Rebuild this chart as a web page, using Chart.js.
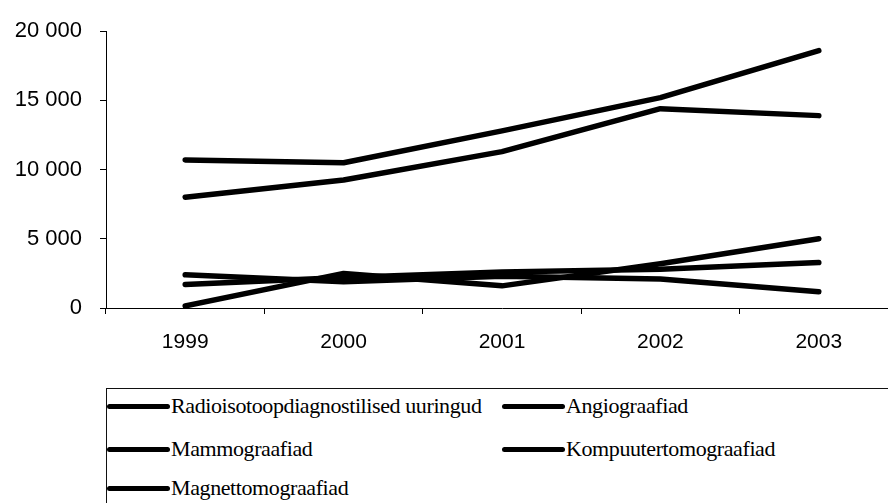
<!DOCTYPE html>
<html>
<head>
<meta charset="utf-8">
<script src="https://cdn.jsdelivr.net/npm/chart.js@4/dist/chart.umd.min.js"></script>
<style>
  html, body { margin: 0; padding: 0; background: #fff; overflow: hidden; }
  #wrap { position: relative; width: 900px; height: 503px; }
  #chart { position: absolute; left: 0; top: 0; }
  #legend {
    position: absolute; left: 106px; top: 388px; width: 800px; height: 140px;
    border: 1.5px solid #111; box-sizing: border-box; background: #fff;
    font-family: 'Liberation Serif', 'Times New Roman', serif; font-size: 22px; color: #000;
    letter-spacing: -0.4px;
  }
  .item { position: absolute; display: flex; align-items: center; height: 26px; white-space: nowrap; }
  .swatch { display: inline-block; width: 63px; height: 5px; background: #000; border-radius: 3px; margin-right: 1px; }
</style>
</head>
<body>
<div id="wrap">
  <canvas id="chart" width="900" height="380"></canvas>
  <div id="legend"></div>
</div>
<script>
var years = ['1999', '2000', '2001', '2002', '2003'];

var radioisotoop = [2400, 1900, 2300, 2100, 1170];
var angio = [1700, 2200, 2600, 2800, 3280];
var mammo = [8000, 9250, 11300, 14400, 13900];
var kompuuter = [10700, 10500, 12800, 15200, 18600];
var magnet = [150, 2500, 1600, 3200, 5000];

var seriesNames = [
  'Radioisotoopdiagnostilised uuringud',
  'Angiograafiad',
  'Mammograafiad',
  'Kompuutertomograafiad',
  'Magnettomograafiad'
];
var seriesData = [radioisotoop, angio, mammo, kompuuter, magnet];

function spaced(v) {
  return String(v).replace(/\B(?=(\d{3})+(?!\d))/g, ' ');
}

var datasets = seriesNames.map(function (name, i) {
  return {
    label: name,
    data: seriesData[i],
    borderColor: '#000',
    backgroundColor: '#000',
    borderWidth: 5.5,
    borderCapStyle: 'round',
    borderJoinStyle: 'round',
    pointRadius: 0,
    tension: 0,
    fill: false
  };
});

const config_main = {
  type: 'line',
  data: {
    labels: years,
    datasets: datasets
  },
  options: {
    responsive: false,
    animation: false,
    layout: { padding: { top: 29, right: 2, left: 0, bottom: 0 } },
    plugins: {
      legend: { display: false },
      tooltip: { enabled: false }
    },
    scales: {
      x: {
        offset: true,
        grid: { offset: true, drawOnChartArea: false, drawTicks: true, tickLength: 6, color: '#000' },
        border: { color: '#000', width: 1 },
        ticks: {
          color: '#000',
          padding: 16,
          font: { family: 'Liberation Sans', size: 21 }
        },
        afterFit: function (s) { s.height = 72; }
      },
      y: {
        min: 0,
        max: 20000,
        grid: { drawOnChartArea: false, drawTicks: true, tickLength: 6, color: '#000' },
        border: { color: '#000', width: 1 },
        ticks: {
          stepSize: 5000,
          color: '#000',
          padding: 18,
          font: { family: 'Liberation Sans', size: 22 },
          callback: function (v) { return spaced(v); }
        },
        afterFit: function (s) { s.width = 106; }
      }
    }
  }
};

const MainChart = new Chart(document.getElementById('chart'), config_main);

// legend box, two columns like the original
var legendPos = [[0, 4], [395, 4], [0, 47], [395, 47], [0, 86]];
var legendBox = document.getElementById('legend');
seriesNames.forEach(function (name, i) {
  var item = document.createElement('div');
  item.className = 'item';
  item.style.left = legendPos[i][0] + 'px';
  item.style.top = legendPos[i][1] + 'px';
  item.innerHTML = '<span class="swatch"></span><span>' + name + '</span>';
  legendBox.appendChild(item);
});
</script>
</body>
</html>
